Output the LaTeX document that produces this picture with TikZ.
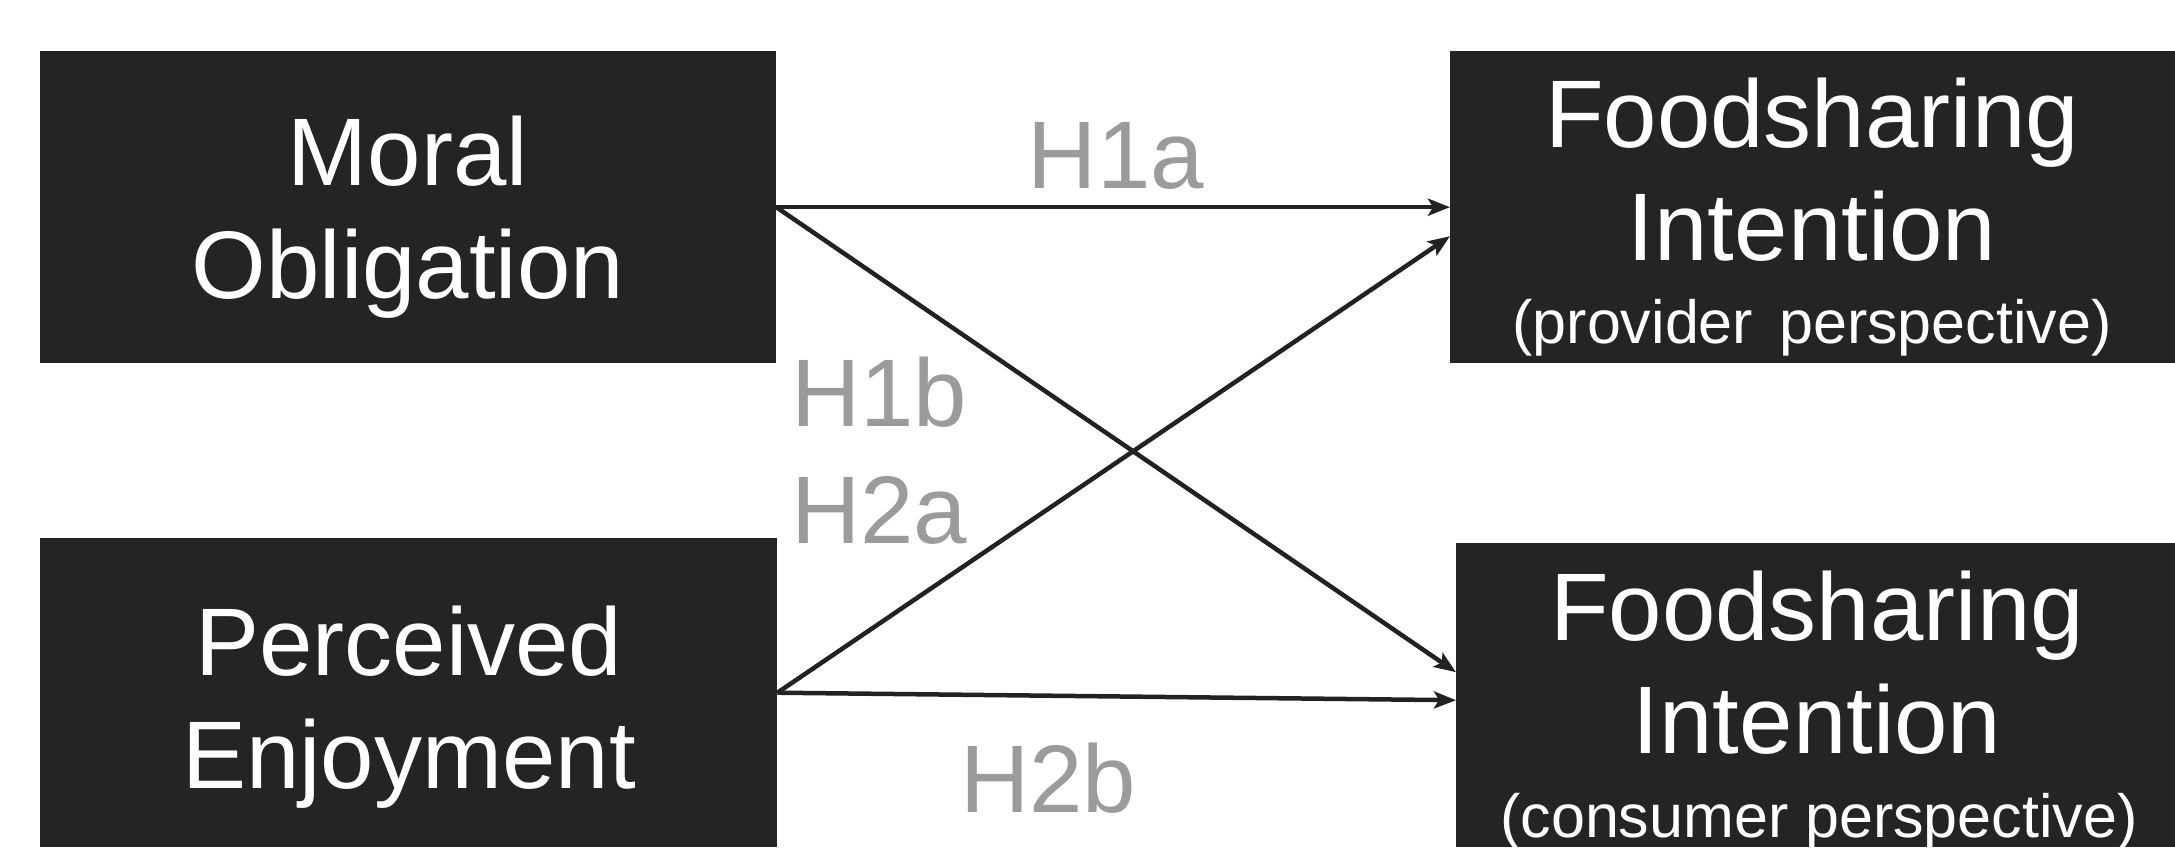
\documentclass[tikz,border=0pt]{standalone}
\usepackage{fontspec}
\setmainfont{Liberation Sans}
\usetikzlibrary{arrows.meta,calc}
\definecolor{boxfill}{HTML}{242424}
\definecolor{hypgray}{HTML}{9B9B9B}
\definecolor{linedark}{HTML}{222222}
\begin{document}
\begin{tikzpicture}[x=1pt,y=-1pt,
  construct/.style={draw=none, fill=boxfill, inner sep=0pt, anchor=north west},
  boxtext/.style={text=white, anchor=base, inner sep=0pt, font=\fontsize{96}{113}\selectfont},
  subtext/.style={text=white, anchor=base, inner sep=0pt, font=\fontsize{61}{70}\selectfont},
  hyp/.style={text=hypgray, inner sep=0pt, font=\fontsize{96}{113}\selectfont},
  link/.style={draw=linedark, line width=4.5pt, -{Stealth[length=22pt,width=17pt,inset=5pt]}}
]
\useasboundingbox (0,0) rectangle (2175,847);

% construct boxes
\node[construct, minimum width=736pt, minimum height=312pt] (mo) at (40,51) {};
\node[construct, minimum width=737pt, minimum height=309pt] (pe) at (40,538) {};
\node[construct, minimum width=725pt, minimum height=312pt] (fp) at (1450,51) {};
\node[construct, minimum width=719pt, minimum height=304pt] (fc) at (1456,543) {};

% box labels
\node[boxtext] (moA) at (408,185) {Moral};
\node[boxtext] (moB) at (408,298) {Obligation};
\node[boxtext] (peA) at (409,675) {Perceived};
\node[boxtext] (peB) at (409,788) {Enjoyment};
\node[boxtext] (fpA) at (1812,147) {Foodsharing};
\node[boxtext] (fpB) at (1812,260) {Intention};
\node[subtext] (fpC) at (1812,343) {(provider\hspace{0.15em} perspective)};
\node[subtext] (fcC) at (1819,837) {(consumer perspective)};
\node[boxtext] (fcA) at (1817,640) {Foodsharing};
\node[boxtext] (fcB) at (1817,753) {Intention};

% hypothesised paths
\draw[link] (mo.east) -- (fp.west);
\draw[link] (mo.east) -- ($(fc.west)+(0,-23)$);
\draw[link] (pe.east) -- ($(fp.west)+(0,29)$);
\draw[link] (pe.east) -- ($(fc.west)+(0,5)$);

% hypothesis labels
\node[hyp, anchor=base] (h1a) at (1116,188) {H1a};
\node[hyp, anchor=base west] (h1b) at (791,426) {H1b};
\node[hyp, anchor=base west] (h2a) at (791,543) {H2a};
\node[hyp, anchor=base west] (h2b) at (960,812) {H2b};
\end{tikzpicture}
\end{document}
